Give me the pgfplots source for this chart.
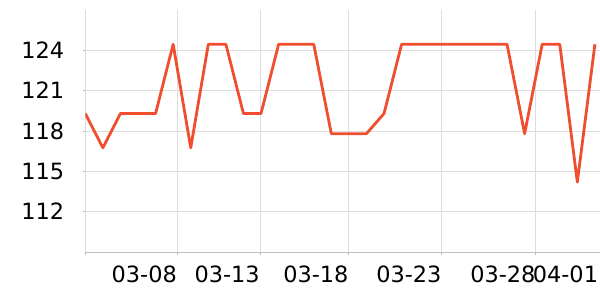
\documentclass[border=0pt]{standalone}
\usepackage{pgfplots}
\pgfplotsset{compat=1.18}
\usepackage{fontspec}
\setmainfont{DejaVu Sans}
\definecolor{lineor}{RGB}{240,78,46}
\definecolor{gridc}{RGB}{221,221,221}
\definecolor{axc}{RGB}{190,190,190}
\begin{document}
\begin{tikzpicture}
\useasboundingbox (0,0) rectangle (600bp,300bp);
\begin{axis}[
  at={(85.3bp,48bp)}, anchor=south west,
  scale only axis, width=514.7bp, height=242bp,
  xmin=0, xmax=29.29, ymin=109, ymax=127,
  axis x line=bottom, axis y line=left,
  x axis line style={-, color=axc, line width=0.8bp},
  y axis line style={-, color=gridc, line width=0.8bp},
  xtick={0,5.22,9.94,14.99,20.28,25.63},
  xticklabels={,03-08,03-13,03-18,03-23,03-28},
  extra x ticks={25.63},
  extra x tick labels={04-01},
  extra x tick style={xticklabel style={anchor=north west, xshift=-3bp}},
  ytick={112,115,118,121,124},
  grid=major,
  major grid style={color=gridc, line width=0.8bp},
  tick align=outside,
  major tick length=2.5bp,
  tick style={color=axc, line width=0.8bp},
  /pgf/number format/assume math mode=true,
  every tick label/.append style={font=\fontsize{22.5}{27}\selectfont, text=black},
  xticklabel style={anchor=north east, inner sep=0pt, yshift=-11bp},
  yticklabel style={anchor=east, inner sep=0pt, xshift=-18.5bp},
  clip=true,
]
\addplot[color=lineor, line width=2.8bp, line join=round, mark=none] coordinates {
(0,119.3) (1,116.75) (2,119.3) (3,119.3) (4,119.3) (5,124.45) (6,116.75) (7,124.45)
(8,124.45) (9,119.3) (10,119.3) (11,124.45) (12,124.45) (13,124.45) (14,117.8)
(15,117.8) (16,117.8) (17,119.3) (18,124.45) (19,124.45) (20,124.45) (21,124.45)
(22,124.45) (23,124.45) (24,124.45) (25,117.8) (26,124.45) (27,124.45) (28,114.2)
(29,124.45)
};
\end{axis}
\end{tikzpicture}
\end{document}
